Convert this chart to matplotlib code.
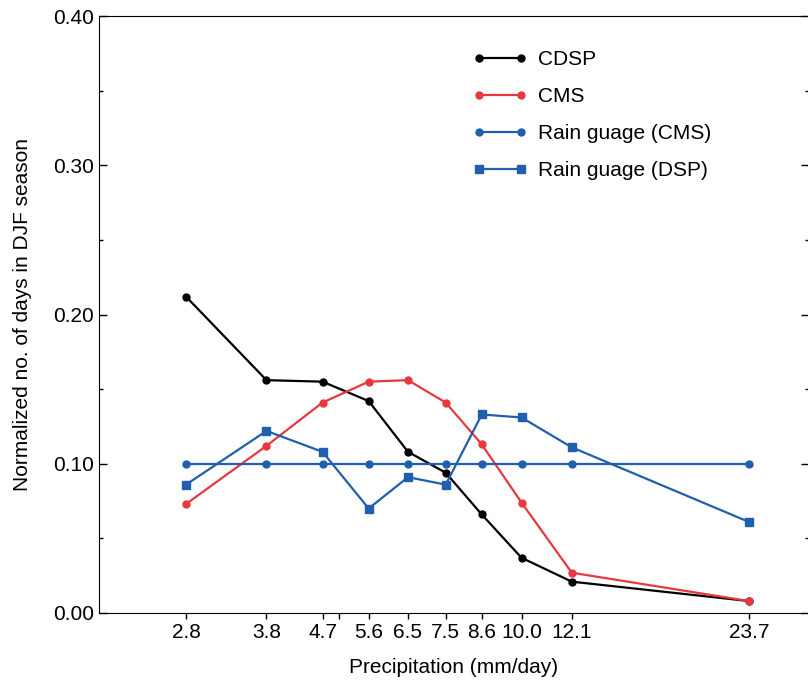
import numpy as np
import matplotlib
matplotlib.use("Agg")
import matplotlib.pyplot as plt
from matplotlib.ticker import FixedLocator, NullFormatter

plt.rcParams['font.family'] = ['Liberation Sans', 'DejaVu Sans']

# umbrales de precipitacion (mm/day)
precip = [2.8, 3.8, 4.7, 5.6, 6.5, 7.5, 8.6, 10.0, 12.1, 23.7]
etiquetas = ["2.8", "3.8", "4.7", "5.6", "6.5", "7.5", "8.6", "10.0", "12.1", "23.7"]

cdsp = [0.212, 0.156, 0.155, 0.142, 0.108, 0.094, 0.066, 0.037, 0.021, 0.008]
cms = [0.073, 0.112, 0.141, 0.155, 0.156, 0.141, 0.113, 0.074, 0.027, 0.008]
rain_cms = [0.100, 0.100, 0.100, 0.100, 0.100, 0.100, 0.100, 0.100, 0.100, 0.100]
rain_dsp = [0.086, 0.122, 0.108, 0.070, 0.091, 0.086, 0.133, 0.131, 0.111, 0.061]

fig = plt.figure(figsize=(8.08, 6.81), dpi=100)
ax = fig.add_axes([99/808, 68/681, 710/808, 597/681])

ax.plot(precip, cdsp, color="black", lw=1.6, marker="o", ms=5, label="CDSP")
ax.plot(precip, cms, color="#e8383f", lw=1.6, marker="o", ms=5, label="CMS")
ax.plot(precip, rain_cms, color="#1f5fad", lw=1.6, marker="o", ms=5,
        label="Rain guage (CMS)")
ax.plot(precip, rain_dsp, color="#1f5fad", lw=1.6, marker="s", ms=6,
        label="Rain guage (DSP)")

ax.set_xscale("log")
ax.set_xlim(2.013, 29.76)
ax.set_ylim(0, 0.40)

ax.xaxis.set_major_locator(FixedLocator(precip))
ax.set_xticklabels(etiquetas)
ax.xaxis.set_minor_locator(FixedLocator([5.0]))
ax.xaxis.set_minor_formatter(NullFormatter())
ax.tick_params(axis="x", which="both", direction="out", length=4, width=1,
               labelsize=15, top=False)

ax.set_yticks([0.0, 0.1, 0.2, 0.3, 0.4])
ax.set_yticklabels(["0.00", "0.10", "0.20", "0.30", "0.40"])
ax.set_yticks(np.arange(0.05, 0.40, 0.1), minor=True)
ax.tick_params(axis="y", which="major", direction="in", length=6, width=1,
               labelsize=15, right=True)
ax.tick_params(axis="y", which="minor", direction="in", length=3, width=1,
               right=True)

ax.set_xlabel("Precipitation (mm/day)", fontsize=15, labelpad=11)
ax.set_ylabel("Normalized no. of days in DJF season", fontsize=15, labelpad=15)

ax.legend(loc="upper left", bbox_to_anchor=(0.527, 0.943), frameon=False,
          fontsize=15, numpoints=2, handlelength=2.6, handletextpad=0.5,
          labelspacing=0.87, borderpad=0, borderaxespad=0)

fig.savefig("out.png", dpi=100)
